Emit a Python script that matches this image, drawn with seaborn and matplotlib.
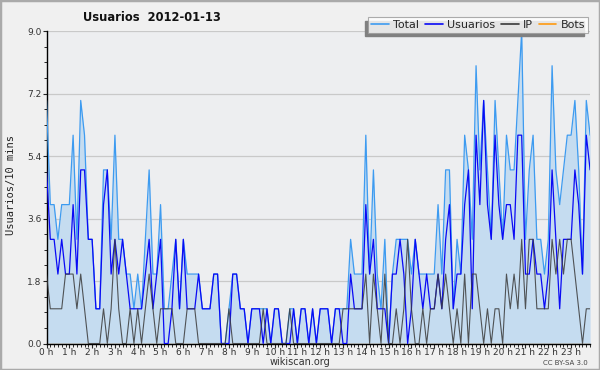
import numpy as np
import pandas as pd
import matplotlib
matplotlib.use("Agg")
import matplotlib.pyplot as plt
from matplotlib.ticker import MultipleLocator, FormatStrFormatter
import seaborn as sns

# edits per 10 minutes, 2012-01-13 (144 slots)
total = [7, 4, 4, 3, 4, 4, 4, 6, 3, 7, 6, 3, 3, 1, 1, 5, 5, 3,
         6, 3, 3, 2, 2, 1, 2, 1, 3, 5, 2, 2, 4, 1, 1, 2, 3, 1,
         3, 2, 2, 2, 2, 1, 1, 1, 2, 2, 0, 0, 1, 2, 2, 1, 1, 0,
         1, 1, 1, 1, 1, 0, 1, 1, 0, 0, 1, 1, 0, 1, 1, 0, 1, 0,
         1, 1, 1, 0, 1, 1, 1, 1, 3, 2, 2, 2, 6, 2, 5, 2, 1, 3,
         0, 2, 3, 3, 3, 3, 2, 3, 2, 2, 2, 2, 2, 4, 2, 5, 5, 1,
         3, 2, 6, 5, 3, 8, 5, 7, 5, 3, 7, 5, 3, 6, 5, 5, 7, 9,
         3, 5, 6, 3, 3, 2, 3, 8, 5, 4, 5, 6, 6, 7, 5, 2, 7, 6]
usuarios = [5, 3, 3, 2, 3, 2, 2, 4, 2, 5, 5, 3, 3, 1, 1, 4, 5, 2,
            3, 2, 3, 2, 1, 1, 1, 1, 2, 3, 1, 2, 3, 0, 0, 1, 3, 1,
            3, 1, 1, 1, 2, 1, 1, 1, 2, 2, 0, 0, 0, 2, 2, 1, 1, 0,
            1, 1, 1, 0, 1, 0, 1, 1, 0, 0, 0, 1, 0, 1, 1, 0, 1, 0,
            1, 1, 1, 0, 1, 1, 0, 0, 2, 1, 1, 1, 4, 2, 3, 1, 1, 1,
            0, 2, 2, 3, 2, 0, 1, 3, 2, 1, 2, 1, 1, 2, 1, 3, 4, 1,
            2, 2, 4, 5, 1, 6, 4, 7, 4, 3, 6, 4, 3, 4, 4, 3, 6, 6,
            2, 2, 3, 2, 2, 1, 2, 5, 3, 1, 3, 3, 3, 5, 4, 2, 6, 5]
ip = [2, 1, 1, 1, 1, 2, 2, 2, 1, 2, 1, 0, 0, 0, 0, 1, 0, 1,
      3, 1, 0, 0, 1, 0, 1, 0, 1, 2, 1, 0, 1, 1, 1, 1, 0, 0,
      0, 1, 1, 1, 0, 0, 0, 0, 0, 0, 0, 0, 1, 0, 0, 0, 0, 0,
      0, 0, 0, 1, 0, 0, 0, 0, 0, 0, 1, 0, 0, 0, 0, 0, 0, 0,
      0, 0, 0, 0, 0, 0, 1, 1, 1, 1, 1, 1, 2, 0, 2, 1, 0, 2,
      0, 0, 1, 0, 1, 3, 1, 0, 0, 1, 0, 1, 1, 2, 1, 2, 1, 0,
      1, 0, 2, 0, 2, 2, 1, 0, 1, 0, 1, 1, 0, 2, 1, 2, 1, 3,
      1, 3, 3, 1, 1, 1, 1, 3, 2, 3, 2, 3, 3, 2, 1, 0, 1, 1]
bots = [0] * 144

hour_labels = [f"{h} h" for h in range(24)]

df = pd.DataFrame({
    "hora": np.arange(len(total)) / 6,
    "Total": total,
    "Usuarios": usuarios,
    "IP": ip,
    "Bots": bots,
})

sns.set_style("white")
plt.rcParams["font.family"] = ["DejaVu Sans"]

fig = plt.figure(figsize=(6, 3.7), dpi=100, facecolor="#f0f0f0")
ax = fig.add_axes([0.0775, 0.0716, 0.906, 0.8446])
ax.set_facecolor("#edeef0")

colors = {"Total": "#3d9bf0", "Usuarios": "#0a0af5", "IP": "#3a3a3a", "Bots": "#ff9a10"}

ax.fill_between(df["hora"], df["Total"], 0, color="#c5dcf0", lw=0, zorder=1)
sns.lineplot(data=df, x="hora", y="Bots", color=colors["Bots"], lw=0.9, ax=ax, zorder=2)
sns.lineplot(data=df, x="hora", y="Total", color=colors["Total"], lw=0.9, ax=ax, zorder=3)
sns.lineplot(data=df, x="hora", y="Usuarios", color=colors["Usuarios"], lw=0.9, ax=ax, zorder=4)
sns.lineplot(data=df, x="hora", y="IP", color=colors["IP"], lw=0.8, alpha=0.85, ax=ax, zorder=5)

ax.set_xlim(0, df["hora"].iloc[-1])
ax.set_ylim(0, 9)

ax.yaxis.set_major_locator(MultipleLocator(1.8))
ax.yaxis.set_minor_locator(MultipleLocator(0.45))
ax.yaxis.set_major_formatter(FormatStrFormatter("%.1f"))
ax.set_xticks(range(24))
ax.set_xticklabels(hour_labels)
ax.xaxis.set_minor_locator(MultipleLocator(1 / 6))

ax.grid(axis="y", which="major", color="#c9c9c9", lw=0.9)
ax.set_axisbelow(True)
for s in ["top", "right"]:
    ax.spines[s].set_visible(False)
for s in ["left", "bottom"]:
    ax.spines[s].set_color("black")
    ax.spines[s].set_linewidth(1.0)

ax.tick_params(axis="both", which="major", direction="out", length=3, width=0.8,
               labelsize=6.5, labelcolor="#333333", pad=0.5, left=True, bottom=True)
ax.tick_params(axis="both", which="minor", direction="out", length=2.2, width=0.7,
               left=True, bottom=True)

ax.set_xlabel("")
ax.set_ylabel("")
fig.text(0.018, 0.5, "Usuarios/10 mins", rotation=90, va="center", ha="center",
         fontsize=7.5, family="DejaVu Sans Mono", color="#222222")

fig.text(0.253, 0.952, "Usuarios  2012-01-13", fontsize=8.3, fontweight="bold",
         ha="center", va="center", color="#111111")

handles = [plt.Line2D([], [], color=colors[k], lw=1.2) for k in ["Total", "Usuarios", "IP", "Bots"]]
leg = fig.legend(handles, ["Total", "Usuarios", "IP", "Bots"], loc="upper right",
                 bbox_to_anchor=(0.98, 0.954), ncol=4, fontsize=8, frameon=True,
                 fancybox=False, shadow=False, handlelength=1.6,
                 handletextpad=0.4, columnspacing=0.5, borderpad=0.25, borderaxespad=0)
leg.get_frame().set_edgecolor("#999999")
leg.get_frame().set_facecolor("white")
leg.get_frame().set_linewidth(0.8)
leg.set_zorder(10)

# shadow offset a few pixels to the lower left, like the original
fig.canvas.draw()
bb = leg.get_window_extent().transformed(fig.transFigure.inverted())
fig.add_artist(plt.Rectangle((bb.x0 - 0.006, bb.y0 - 0.0095), bb.width, bb.height,
                             transform=fig.transFigure, color="#808080", zorder=9))

fig.text(0.5, 0.021, "wikiscan.org", fontsize=7, ha="center", va="center", color="#333333")
fig.text(0.943, 0.019, "CC BY-SA 3.0", fontsize=5, ha="center", va="center", color="#444444")

fig.add_artist(plt.Rectangle((0, 0), 1, 1, transform=fig.transFigure, fill=False,
                             edgecolor="#aaaaaa", lw=2.5))

fig.savefig("out.png", dpi=100, facecolor=fig.get_facecolor())
